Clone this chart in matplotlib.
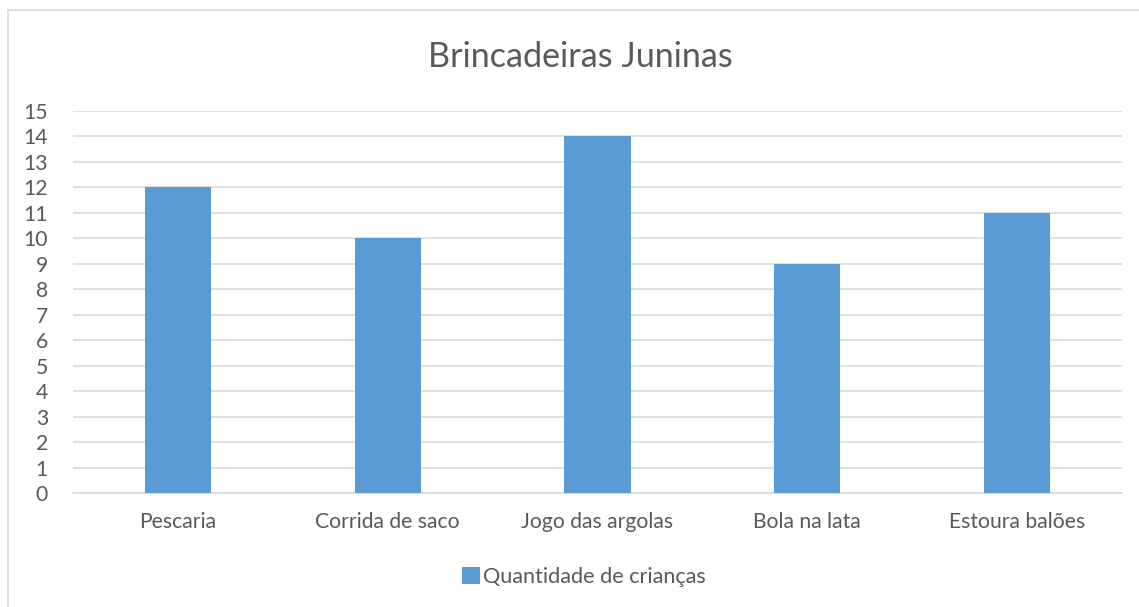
import matplotlib.pyplot as plt
from matplotlib.lines import Line2D
from matplotlib.patches import Patch

categories = ["Pescaria", "Corrida de saco", "Jogo das argolas", "Bola na lata", "Estoura balões"]
quantidade = [12, 10, 14, 9, 11]
y_ticks = list(range(0, 16))

title = "Brincadeiras Juninas"
series_name = "Quantidade de crianças"

BAR_COLOR = "#5B9BD5"
TEXT_COLOR = "#595959"
GRID_COLOR = "#D9D9D9"

plt.rcParams["font.family"] = ["Lato", "DejaVu Sans"]

W, H = 1139, 607
fig = plt.figure(figsize=(W / 100, H / 100), dpi=100)

# chart frame (top and left edges visible)
fig.add_artist(Line2D([8 / W, 8 / W], [0, 1 - 10 / H], color=GRID_COLOR, lw=1.2))
fig.add_artist(Line2D([8 / W, 1], [1 - 10 / H, 1 - 10 / H], color=GRID_COLOR, lw=1.2))

ax = fig.add_axes([73 / W, 1 - 493 / H, (1122 - 73) / W, (493 - 110.7) / H])
x = range(len(categories))
ax.bar(x, quantidade, width=0.315, color=BAR_COLOR, zorder=3)

ax.set_xlim(-0.5, len(categories) - 0.5)
ax.set_ylim(0, 15)
ax.set_yticks(y_ticks)
ax.set_xticks(list(x))
ax.set_xticklabels(categories)
ax.tick_params(axis="both", length=0, colors=TEXT_COLOR, labelsize=15.2)
ax.tick_params(axis="x", pad=14)
ax.tick_params(axis="y", pad=18)
ax.grid(axis="y", color=GRID_COLOR, lw=1.2, zorder=0)
for side in ["top", "right", "left"]:
    ax.spines[side].set_visible(False)
ax.spines["bottom"].set_color(GRID_COLOR)
ax.spines["bottom"].set_linewidth(1.2)

fig.text(580 / W, 1 - 57 / H, title, ha="center", va="center", fontsize=24.6, color=TEXT_COLOR)

handle = Patch(facecolor=BAR_COLOR, edgecolor="none")
fig.legend([handle], [series_name], loc="center", bbox_to_anchor=(584 / W, 1 - 577 / H),
           frameon=False, fontsize=15.6, handlelength=0.8, handleheight=0.8,
           handletextpad=0.15, labelcolor=TEXT_COLOR)

fig.savefig("out.png", dpi=100, facecolor="white")
